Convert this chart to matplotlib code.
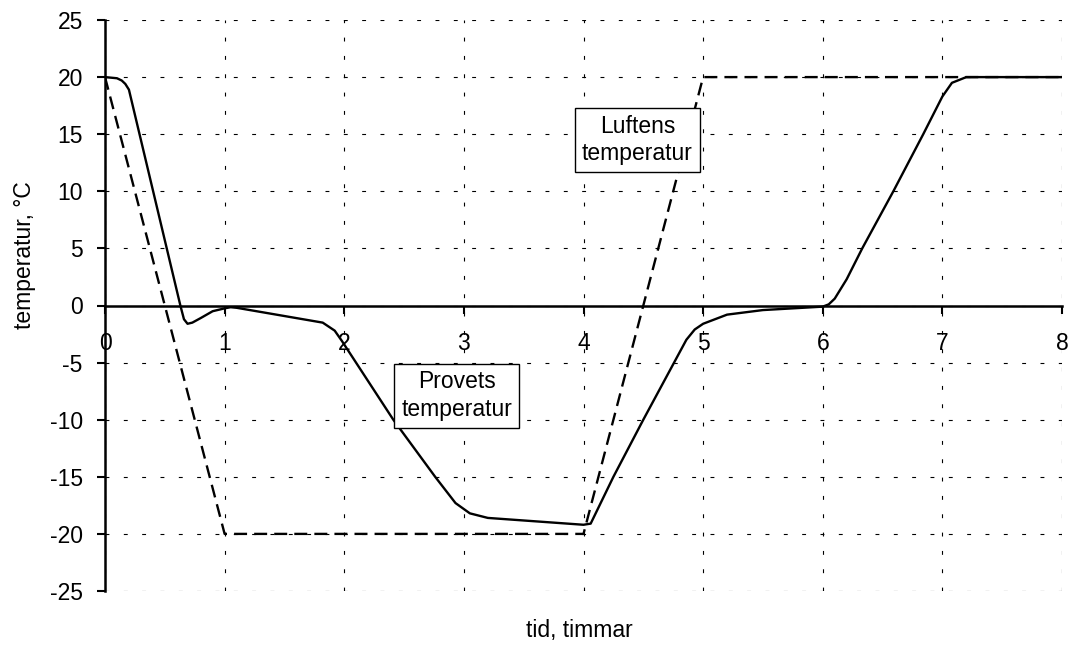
import matplotlib
matplotlib.use("Agg")
import matplotlib.pyplot as plt

plt.rcParams['font.family'] = ['Liberation Sans', 'DejaVu Sans']
plt.rcParams['axes.unicode_minus'] = False

# Provets temperatur (solid)
prov_t = [0.0, 0.1, 0.14, 0.17, 0.2, 0.63, 0.66, 0.69, 0.73, 0.8, 0.9, 1.0, 1.05, 1.1,
          1.82, 1.92, 1.98, 2.41, 2.76, 2.93, 3.05, 3.2, 4.0, 4.06,
          4.25, 4.5, 4.86, 4.93, 5.0, 5.2, 5.5, 6.0, 6.05, 6.1, 6.2, 6.33, 6.59, 6.84,
          7.0, 7.08, 7.2, 8.0]
prov_temp = [20.0, 19.9, 19.7, 19.4, 18.9, 0.0, -1.2, -1.6, -1.5, -1.1, -0.5, -0.25, -0.15, -0.2,
             -1.5, -2.2, -3.1, -10.0, -15.0, -17.3, -18.2, -18.6, -19.2, -19.1,
             -15.0, -10.0, -3.0, -2.1, -1.6, -0.8, -0.4, -0.1, 0.1, 0.6, 2.3, 5.0, 10.0, 15.0,
             18.3, 19.5, 20.0, 20.0]

# Luftens temperatur (dashed)
luft_t = [0, 1, 4, 5, 8]
luft_temp = [20, -20, -20, 20, 20]

fs = 16.5

fig = plt.figure(figsize=(10.69, 6.46), dpi=100)
ax = fig.add_axes([105 / 1069, 1 - 591 / 646, 957 / 1069, 571 / 646])

ax.set_xlim(0, 8)
ax.set_ylim(-25, 25)
ax.set_xticks(range(0, 9))
ax.set_yticks(range(-25, 30, 5))

ax.grid(True, color='black', linewidth=0.8, linestyle=(0, (3.5, 13)))
ax.set_axisbelow(True)

ax.spines['top'].set_visible(False)
ax.spines['right'].set_visible(False)
ax.spines['left'].set_linewidth(1.8)
ax.spines['bottom'].set_position(('data', 0))
ax.spines['bottom'].set_linewidth(1.8)

ax.tick_params(axis='y', direction='out', length=6, width=1.5, labelsize=fs, pad=10)
ax.tick_params(axis='x', direction='out', length=6, width=1.5, labelsize=fs, pad=13)
for lab in ax.get_xticklabels():
    if lab.get_text() == '0':
        lab.set_bbox(dict(facecolor='white', edgecolor='none', pad=4))

ax.plot(luft_t, luft_temp, color='black', linewidth=1.7, linestyle=(0, (5.5, 3)))
ax.plot(prov_t, prov_temp, color='black', linewidth=1.7)

box = dict(boxstyle='square,pad=0.3', facecolor='white', edgecolor='black', linewidth=1)
ax.text(4.45, 14.5, 'Luftens\ntemperatur', fontsize=fs, ha='center', va='center',
        linespacing=1.25, bbox=box)
ax.text(2.94, -7.9, 'Provets\ntemperatur', fontsize=fs, ha='center', va='center',
        linespacing=1.25, bbox=box)

fig.text(579 / 1069, 1 - 630 / 646, 'tid, timmar', fontsize=fs, ha='center', va='center')
fig.text(25 / 1069, 1 - 255 / 646, 'temperatur, °C', fontsize=fs, ha='center', va='center',
         rotation=90)

fig.savefig('out.png', dpi=100)
